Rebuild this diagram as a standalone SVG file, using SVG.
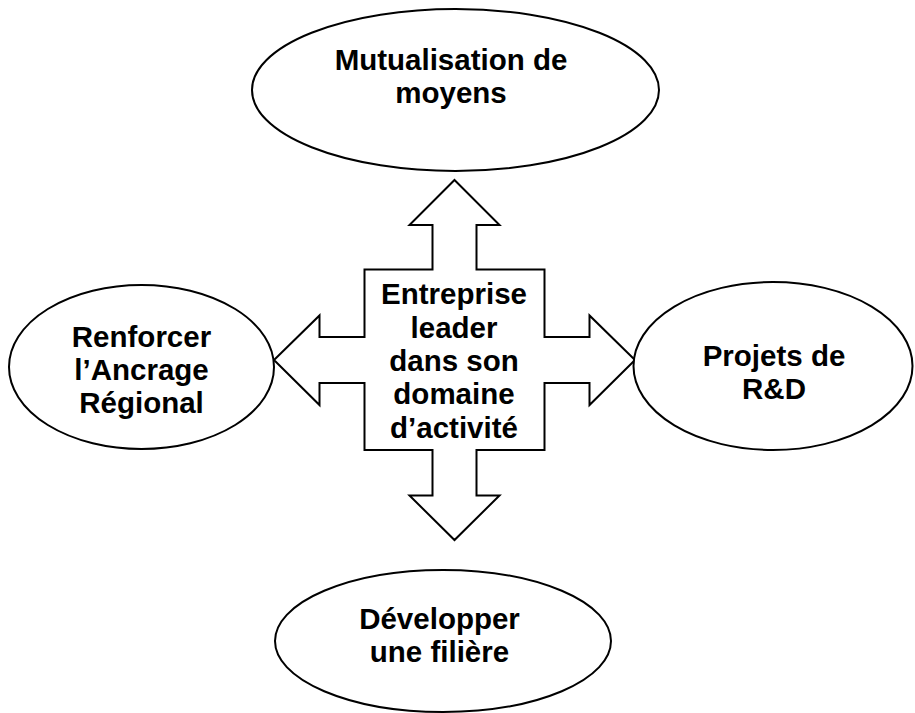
<svg xmlns="http://www.w3.org/2000/svg" width="915" height="713" viewBox="0 0 915 713">
  <style>
    .shape { fill: #ffffff; stroke: #000000; stroke-width: 2; }
    .label { font-family: "Liberation Sans", Arial, sans-serif; font-weight: bold; font-size: 29.5px; fill: #000000; text-anchor: middle; }
  </style>
  <rect width="915" height="713" fill="#ffffff"/>

  <!-- central four-way arrow -->
  <g id="connectors">
    <path class="shape" d="M454.5,180 L499.5,225 L476.5,225 L476.5,269.5 L544.5,269.5 L544.5,337 L589.5,337 L589.5,315.5 L635,360 L589.5,405 L589.5,383 L544.5,383 L544.5,450 L476.5,450 L476.5,495.5 L499.5,495.5 L454.5,540 L409.5,495.5 L432.5,495.5 L432.5,450 L364.5,450 L364.5,383 L319.5,383 L319.5,405 L274,360 L319.5,315.5 L319.5,337 L364.5,337 L364.5,269.5 L432.5,269.5 L432.5,225 L409.5,225 Z"/>
  </g>

  <g id="center">
    <text class="label" x="454" y="304">Entreprise</text>
    <text class="label" x="454" y="337.5">leader</text>
    <text class="label" x="454" y="371">dans son</text>
    <text class="label" x="454" y="404">domaine</text>
    <text class="label" x="454" y="437.5">d’activité</text>
  </g>

  <g id="top">
    <ellipse class="shape" cx="455.5" cy="90" rx="203.5" ry="81"/>
    <text class="label" x="451" y="69.5">Mutualisation de</text>
    <text class="label" x="451" y="103">moyens</text>
  </g>

  <g id="left">
    <ellipse class="shape" cx="141.5" cy="367" rx="132.5" ry="82"/>
    <text class="label" x="141.5" y="347">Renforcer</text>
    <text class="label" x="141.5" y="380">l’Ancrage</text>
    <text class="label" x="141.5" y="413">Régional</text>
  </g>

  <g id="right">
    <ellipse class="shape" cx="773" cy="366" rx="139.5" ry="84"/>
    <text class="label" x="774" y="366">Projets de</text>
    <text class="label" x="774" y="399">R&amp;D</text>
  </g>

  <g id="bottom">
    <ellipse class="shape" cx="443" cy="641" rx="168" ry="71"/>
    <text class="label" x="439.5" y="629">Développer</text>
    <text class="label" x="439.5" y="662">une filière</text>
  </g>
</svg>
